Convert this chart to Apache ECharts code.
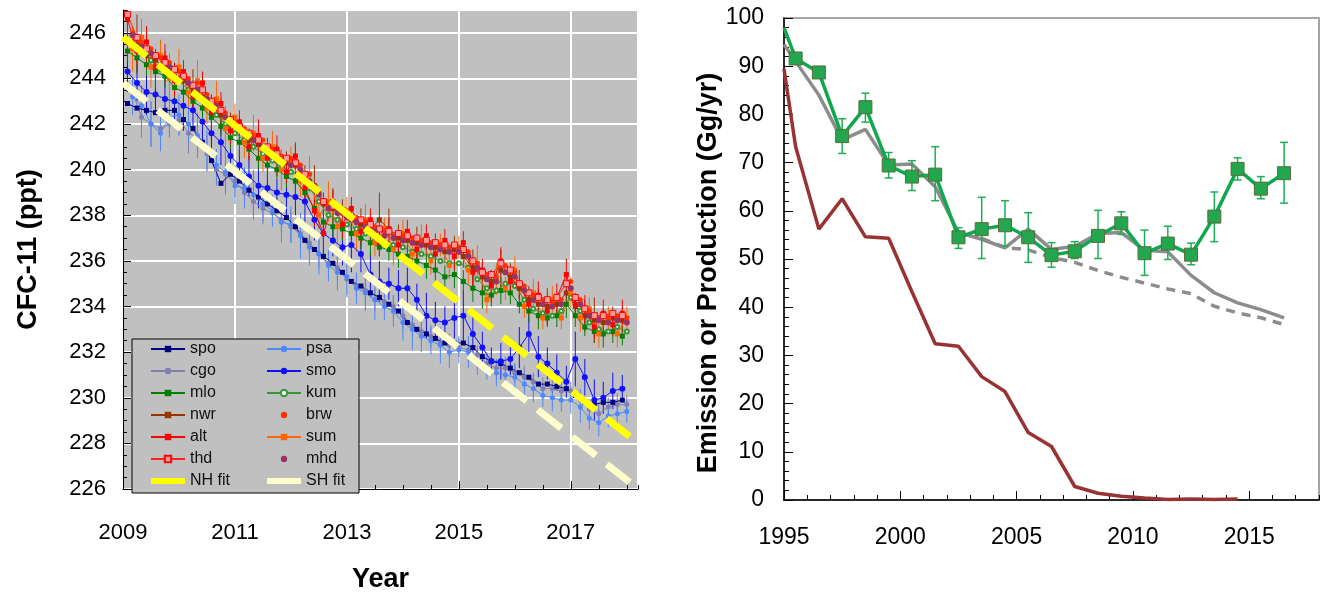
<!DOCTYPE html>
<html><head><meta charset="utf-8">
<script src="https://cdn.jsdelivr.net/npm/echarts@6/dist/echarts.min.js"></script>
<style>html,body{margin:0;padding:0;background:#fff}#c{width:1321px;height:598px}</style>
</head><body><div id="c"></div>
<script>
// ---------- Left panel: CFC-11 mole fractions (ppt) ----------
const tYears = [
2009.08,2009.25,2009.42,2009.58,2009.75,2009.92,
2010.08,2010.25,2010.42,2010.58,2010.75,2010.92,
2011.08,2011.25,2011.42,2011.58,2011.75,2011.92,
2012.08,2012.25,2012.42,2012.58,2012.75,2012.92,
2013.08,2013.25,2013.42,2013.58,2013.75,2013.92,
2014.08,2014.25,2014.42,2014.58,2014.75,2014.92,
2015.08,2015.25,2015.42,2015.58,2015.75,2015.92,
2016.08,2016.25,2016.42,2016.58,2016.75,2016.92,
2017.08,2017.25,2017.42,2017.58,2017.75,2017.92];
const tYearsB = [
2009.17,2009.33,2009.50,2009.67,2009.83,2010.00,
2010.17,2010.33,2010.50,2010.67,2010.83,2011.00,
2011.17,2011.33,2011.50,2011.67,2011.83,2012.00,
2012.17,2012.33,2012.50,2012.67,2012.83,2013.00,
2013.17,2013.33,2013.50,2013.67,2013.83,2014.00,
2014.17,2014.33,2014.50,2014.67,2014.83,2015.00,
2015.17,2015.33,2015.50,2015.67,2015.83,2016.00,
2016.17,2016.33,2016.50,2016.67,2016.83,2017.00,
2017.17,2017.33,2017.50,2017.67,2017.83,2018.00];

const spo = [
242.9,242.7,242.6,242.5,242.6,242.6, 242.2,241.8,241.2,240.4,239.4,239.8,
239.5,239.1,238.8,238.5,238.2,237.9, 237.5,236.9,236.5,236.2,235.9,235.5,
235.1,234.9,234.6,234.4,234.1,233.8, 233.3,233.0,232.8,232.6,232.4,232.4,
232.4,232.2,231.8,231.6,231.5,231.3, 231.1,230.9,230.6,230.6,230.5,230.4,
230.1,229.8,229.7,229.8,229.8,229.9];
const cgo = [
243.4,242.3,242.0,241.8,242.0,242.2, 241.6,241.4,240.7,240.0,239.8,239.5,
239.0,238.6,238.3,238.1,237.8,237.5, 237.2,236.8,236.3,235.9,235.7,235.2,
234.9,234.7,234.3,234.2,234.0,233.6, 233.2,232.9,232.7,232.4,232.3,232.2,
232.1,231.9,231.5,231.3,231.3,231.1, 230.9,230.7,230.4,230.4,230.3,230.3,
229.9,229.5,229.3,229.6,229.7,229.7];
const psa = [
243.2,242.8,242.0,241.6,242.3,242.4, 242.0,241.5,240.9,240.2,239.9,239.3,
239.2,238.9,238.5,238.2,237.7,237.6, 237.1,236.6,236.3,235.8,235.5,235.3,
234.8,234.6,234.3,234.0,233.8,233.3, 233.0,232.7,232.5,232.3,232.0,232.1,
232.0,231.6,231.3,231.1,231.0,230.9, 230.6,230.4,230.1,230.0,229.9,229.9,
229.6,229.1,228.9,229.2,229.3,229.4];
const smo = [
244.3,243.8,243.4,243.3,243.1,243.0, 242.8,242.6,242.1,241.6,241.2,240.6,
240.2,239.7,239.3,239.2,239.0,238.9, 238.8,238.6,237.8,237.2,236.9,236.6,
236.7,236.3,235.4,235.1,235.0,234.8, 234.8,234.3,233.6,233.4,233.3,233.5,
233.6,232.8,232.2,231.6,231.6,231.7, 232.2,232.8,231.8,231.5,231.1,230.7,
231.7,230.9,229.9,230.0,230.3,230.4];
const mlo = [
245.2,244.9,244.6,244.3,244.1,243.6, 243.4,243.0,242.7,242.3,241.9,241.4,
241.2,240.9,240.5,240.2,240.0,239.7, 239.5,239.0,238.3,237.7,237.5,237.4,
237.2,237.0,236.8,236.6,236.5,236.3, 236.2,236.0,235.8,235.6,235.3,235.4,
235.1,234.8,234.6,234.5,234.7,234.6, 234.1,233.8,233.6,233.5,233.6,234.1,
233.6,233.1,232.9,232.8,232.9,232.7];
const kum = [
245.5,245.1,244.8,244.4,244.2,243.9, 243.5,243.2,242.9,242.4,242.0,241.6,
241.3,241.0,240.7,240.4,240.1,239.9, 239.7,239.2,238.6,238.0,237.8,237.6,
237.4,237.2,237.0,236.8,236.7,236.6, 236.4,236.3,236.2,236.0,235.9,235.9,
235.7,235.2,234.8,234.7,235.0,234.9, 234.3,233.9,233.7,233.6,233.8,234.4,
233.8,233.3,233.0,232.9,233.1,232.9];
const nwr = [
245.6,245.5,245.0,244.8,244.5,244.1, 243.9,243.5,243.2,242.8,242.4,242.0,
241.7,241.3,241.1,240.8,240.4,240.3, 240.2,239.6,239.3,238.5,238.3,238.1,
237.8,237.6,237.4,237.8,237.4,237.0, 236.9,236.8,236.7,236.6,236.4,236.5,
236.2,235.7,235.3,235.1,235.6,235.3, 234.8,234.3,234.1,234.0,234.1,234.6,
234.0,233.6,233.4,233.3,233.5,233.4];
const brw = [
246.0,245.6,245.3,244.9,244.7,244.3, 244.0,243.8,243.3,242.9,242.5,242.1,
241.8,241.5,241.3,240.9,240.6,240.5, 240.2,239.8,239.0,238.5,238.3,238.0,
237.9,237.7,237.5,237.3,237.1,237.1, 237.0,236.9,236.8,236.7,236.6,236.6,
236.4,235.9,235.4,235.3,235.8,235.5, 234.9,234.5,234.3,234.2,234.3,235.1,
234.3,233.8,233.5,233.5,233.6,233.5];
const alt = [
246.6,245.2,245.6,244.5,244.9,243.9, 244.3,243.2,243.8,242.5,242.9,241.7,
242.1,241.0,241.5,240.5,240.9,239.9, 240.6,239.2,238.2,237.2,238.6,237.6,
238.3,237.3,237.8,236.8,237.4,236.7, 237.3,236.5,237.1,236.3,236.9,236.2,
236.8,235.5,235.6,234.9,236.0,235.1, 235.0,234.1,234.5,233.8,234.4,235.4,
234.1,233.9,233.1,233.7,233.2,233.7];
const sum = [
245.3,245.8,244.5,245.0,244.0,244.5, 243.4,243.9,242.7,243.1,241.8,242.3,
241.2,241.6,240.5,241.0,240.0,240.4, 239.5,239.8,238.0,238.6,237.5,238.2,
237.2,237.8,236.8,237.4,236.5,237.2, 236.3,236.9,236.0,236.7,235.8,236.6,
235.6,235.9,234.3,235.2,234.8,235.6, 234.0,234.6,233.5,234.3,233.5,234.6,
233.5,233.9,232.8,233.5,232.8,233.5];
const thd = [
246.8,245.8,245.3,245.0,244.7,244.4, 244.1,243.7,243.5,243.0,242.6,242.2,
241.9,241.6,241.3,241.0,240.7,240.5, 240.3,239.8,239.2,238.6,238.4,238.2,
237.9,237.8,237.6,237.4,237.3,237.2, 237.1,237.0,236.9,236.8,236.7,236.7,
236.5,236.0,235.5,235.4,235.9,235.6, 235.0,234.6,234.4,234.3,234.4,235.0,
234.4,233.9,233.6,233.6,233.7,233.6];
const mhd = [
245.9,245.4,245.1,244.6,244.5,244.0, 243.8,243.5,243.1,242.8,242.3,241.9,
241.6,241.3,241.0,240.7,240.4,240.2, 240.0,239.5,238.9,238.3,238.1,237.9,
237.7,237.5,237.3,237.1,237.0,236.9, 236.8,236.7,236.6,236.5,236.4,236.4,
236.2,235.7,235.2,235.1,235.5,235.3, 234.7,234.3,234.1,234.0,234.1,234.8,
234.1,233.6,233.4,233.3,233.4,233.3];

// error half-widths (ppt)
const smoErr = [0.9,0.8,1.0,0.7,0.9,0.8,1.1,0.7,0.8,0.9,1.0,0.8,0.7,0.9,1.0,0.8,0.6,0.9,0.8,1.1,0.9,1.0,0.7,0.8,1.2,0.8,1.0,0.9,0.7,0.8,0.9,0.7,1.0,0.8,0.7,0.9,1.1,0.8,0.7,0.6,0.8,0.7,0.9,0.8,0.9,0.7,0.8,0.7,1.2,0.8,0.9,0.7,0.8,0.6];
const psaErr = [0.8,0.9,1.0,0.8,0.7,0.9,0.8,1.0,0.9,0.7,1.0,0.8,0.9,1.1,0.8,0.7,0.9,0.8,1.0,0.8,0.9,0.7,0.8,0.9,0.7,0.8,0.9,0.6,0.7,0.8,0.9,0.7,0.6,0.8,0.7,0.6,0.7,0.6,0.5,0.6,0.5,0.6,0.5,0.6,0.5,0.6,0.5,0.6,0.7,0.5,0.6,0.5,0.6,0.5];
const cgoErr = [0.6,0.9,1.0,0.8,0.6,0.7,0.9,0.6,0.8,0.7,0.6,0.7,0.5,0.6,0.7,0.5,0.6,0.7,0.6,0.5,0.6,0.5,0.6,0.7,0.5,0.6,0.5,0.4,0.5,0.6,0.5,0.4,0.5,0.4,0.5,0.4,0.5,0.4,0.5,0.4,0.5,0.4,0.5,0.4,0.5,0.4,0.5,0.4,0.5,0.4,0.5,0.4,0.5,0.4];
const nwrErr = [0.5,1.3,0.6,0.5,0.7,0.6,0.5,0.9,0.6,0.5,0.7,0.5,0.6,0.5,0.8,0.6,0.7,0.5,0.9,0.6,0.9,0.5,0.9,0.6,0.5,0.7,0.6,1.2,0.9,0.6,0.5,0.7,0.5,0.6,0.5,0.6,0.5,0.8,0.6,0.5,0.9,0.6,0.5,0.6,0.7,0.8,0.5,0.6,0.5,0.7,1.0,0.6,0.5,0.6];
const sumErr = [1.0,0.8,0.9,0.7,1.1,0.8,0.6,0.9,0.7,0.8,1.0,0.6,0.7,0.8,0.6,0.7,0.9,0.6,0.7,0.8,0.6,0.9,0.7,0.6,0.8,0.7,0.6,0.5,0.7,0.6,0.5,0.7,0.6,0.5,0.6,0.5,0.6,0.8,0.6,0.7,0.5,0.6,0.5,0.6,0.5,0.6,0.5,0.7,0.6,0.5,0.6,0.5,0.6,0.5];
const mloErr = [0.5,0.6,0.5,0.7,0.5,0.6,0.5,0.4,0.6,0.5,0.4,0.5,0.6,0.4,0.5,0.6,0.4,0.5,0.6,0.5,0.7,0.5,0.6,0.5,0.4,0.5,0.6,0.4,0.5,0.6,0.4,0.5,0.6,0.7,0.5,0.6,0.5,0.6,0.7,0.5,0.6,0.5,0.4,0.5,0.6,0.4,0.5,0.6,0.5,0.4,0.5,0.6,0.5,0.4];
const altErr = [0.8,0.6,0.7,0.5,0.6,0.7,0.5,0.6,0.5,0.7,0.5,0.6,0.5,0.6,0.7,0.5,0.6,0.5,0.6,0.5,0.7,0.6,0.5,0.6,0.5,0.6,0.5,0.6,0.5,0.6,0.5,0.6,0.5,0.6,0.5,0.6,0.5,0.6,0.5,0.7,0.6,0.5,0.6,0.5,0.6,0.5,0.6,0.7,0.5,0.6,0.5,0.6,0.5,0.6];

// linear fits: [year, ppt] end points
const nhFit = [[2009.0, 245.8], [2018.05, 228.3]];
const shFit = [[2009.0, 243.8], [2018.05, 226.3]];

const leftYTicks = [226, 247, 2];
const leftXTicks = [2009, 2018.2, 2];

// ---------- Right panel: emissions / production (Gg/yr) ----------
const emisYears = [1995.5,1996.5,1997.5,1998.5,1999.5,2000.5,2001.5,2002.5,2003.5,2004.5,2005.5,2006.5,2007.5,2008.5,2009.5,2010.5,2011.5,2012.5,2013.5,2014.5,2015.5,2016.5];
const emis   = [91.6,88.7,75.5,81.5,69.4,67.1,67.5,54.5,56.2,57.0,54.5,50.8,51.6,54.8,57.4,51.2,53.2,50.9,58.8,68.7,64.6,67.8];
const emisLo = [null,null,71.9,78.4,66.8,64.2,62.1,52.2,50.1,52.7,49.3,48.3,50.1,50.1,55.1,46.6,49.9,48.8,53.6,66.4,62.5,61.6];
const emisHi = [null,null,79.1,84.4,72.1,70.4,73.3,56.5,62.8,62.1,59.6,53.4,53.6,60.1,59.8,56.0,56.8,53.3,63.9,71.0,67.1,74.2];
const emisStart = [1995.0, 98.0];

const modelYears = [1995.0,1995.5,1996.5,1997.5,1998.5,1999.5,2000.5,2001.5,2002.5,2003.5,2004.5,2005.5,2006.5,2007.5,2008.5,2009.5,2010.5,2011.5,2012.5,2013.5,2014.5,2015.5,2016.5];
const modelEmis  = [94.5,91.0,84.0,74.7,76.9,69.5,69.7,65.0,55.5,54.1,52.3,56.2,52.0,52.6,55.3,55.5,51.8,51.5,46.6,43.0,40.9,39.5,37.8];
const projYears = [2003.5,2004.5,2005.5,2006.5,2007.5,2008.5,2009.5,2010.5,2011.5,2012.5,2013.5,2014.5,2015.5,2016.5];
const projEmis  = [54.3,52.4,51.9,50.3,49.3,47.6,46.2,45.0,43.8,42.8,40.2,38.8,37.8,36.4];
const prodYears = [1995.0,1995.5,1996.5,1997.5,1998.5,1999.5,2000.5,2001.5,2002.5,2003.5,2004.5,2005.5,2006.5,2007.5,2008.5,2009.5,2010.5,2011.5,2012.5,2013.5,2014.5];
const prod      = [89.4,73.3,56.2,62.5,54.6,54.3,43.2,32.4,31.9,25.6,22.5,14.0,11.1,2.8,1.4,0.8,0.4,0.1,0.2,0.1,0.2];

const rightYTicks = [0, 100, 10];
const rightXTicks = [1995, 2018, 5];

// ---------- build ----------
const FONT = 'Liberation Sans, Arial, sans-serif';
const pair = (xs, ys) => xs.map((x, i) => [x, ys[i]]);
const plain = v => String(v);

function station(name, times, vals, color, symbol, size, extra) {
  return Object.assign({
    name, type: 'line', xAxisIndex: 0, yAxisIndex: 0, data: pair(times, vals),
    symbol, symbolSize: size, showSymbol: true,
    lineStyle: { color, width: 1 }, itemStyle: { color }, z: 3, animation: false
  }, extra || {});
}
function errBars(name, times, vals, errs, color) {
  return {
    name: name + ' err', type: 'custom', xAxisIndex: 0, yAxisIndex: 0, clip: true, silent: true, z: 2,
    data: times.map((x, i) => [x, vals[i] - errs[i], vals[i] + errs[i]]),
    renderItem: (p, api) => {
      const a = api.coord([api.value(0), api.value(1)]);
      const b = api.coord([api.value(0), api.value(2)]);
      return { type: 'line', shape: { x1: a[0], y1: a[1], x2: b[0], y2: b[1] }, style: { stroke: color, lineWidth: 1 } };
    }
  };
}

const emisErrData = [];
emisYears.forEach((x, i) => { if (emisLo[i] != null) emisErrData.push([x, emisLo[i], emisHi[i]]); });

const legendCommon = {
  orient: 'vertical', itemGap: 6, itemWidth: 34, itemHeight: 8, padding: 0, z: 20,
  textStyle: { fontFamily: FONT, fontSize: 16, lineHeight: 16, color: '#111' }, selectedMode: false
};
const fitIcon = 'path://M0,0H34V6H0Z';

const option = {
  animation: false,
  backgroundColor: '#ffffff',
  graphic: [{ type: 'rect', z: 10, shape: { x: 132, y: 339, width: 227, height: 154 },
              style: { fill: '#c0c0c0', stroke: '#000', lineWidth: 1 } }],
  legend: [
    Object.assign({ left: 150, top: 341,
      data: ['spo', 'cgo', 'mlo', 'nwr', 'alt', 'thd', { name: 'NH fit', icon: fitIcon }] }, legendCommon),
    Object.assign({ left: 266, top: 341,
      data: ['psa', 'smo', 'kum', 'brw', 'sum', 'mhd', { name: 'SH fit', icon: fitIcon }] }, legendCommon)
  ],
  grid: [
    { left: 123, top: 10, width: 515, height: 490, show: true, backgroundColor: '#c0c0c0', borderColor: '#808080', borderWidth: 1 },
    { left: 784, top: 18, width: 535, height: 482, show: true, backgroundColor: '#fff', borderColor: '#a6a6a6', borderWidth: 2 }
  ],
  xAxis: [
    { type: 'value', gridIndex: 0, position: 'bottom', min: leftXTicks[0], max: leftXTicks[1], interval: leftXTicks[2],
      name: 'Year', nameLocation: 'middle', nameGap: 77,
      nameTextStyle: { fontFamily: FONT, fontSize: 27, fontWeight: 'bold', color: '#000' },
      axisLine: { show: true, lineStyle: { color: '#000', width: 1 } },
      axisTick: { show: true, inside: true, length: 8, lineStyle: { color: '#000' } },
      axisLabel: { fontFamily: FONT, fontSize: 22, color: '#000', margin: 33, showMaxLabel: false, formatter: plain },
      splitLine: { show: true, lineStyle: { color: '#ffffff', width: 2 } } },
    { type: 'value', gridIndex: 0, position: 'bottom', min: leftXTicks[0], max: leftXTicks[1], interval: 0.5,
      axisLine: { show: false }, axisLabel: { show: false }, splitLine: { show: false },
      axisTick: { show: true, inside: true, length: 4, lineStyle: { color: '#000' } } },
    { type: 'value', gridIndex: 1, position: 'bottom', min: rightXTicks[0], max: rightXTicks[1], interval: rightXTicks[2],
      axisLine: { show: true, lineStyle: { color: '#000', width: 1.5 } },
      axisTick: { show: true, inside: true, length: 9, lineStyle: { color: '#000' } },
      axisLabel: { fontFamily: FONT, fontSize: 23, color: '#000', margin: 26, showMaxLabel: false, formatter: plain },
      splitLine: { show: false } },
    { type: 'value', gridIndex: 1, position: 'bottom', min: rightXTicks[0], max: rightXTicks[1], interval: 1,
      axisLine: { show: false }, axisLabel: { show: false }, splitLine: { show: false },
      axisTick: { show: true, inside: true, length: 5, lineStyle: { color: '#000' } } }
  ],
  yAxis: [
    { type: 'value', gridIndex: 0, position: 'left', min: leftYTicks[0], max: leftYTicks[1], interval: leftYTicks[2],
      name: 'CFC-11 (ppt)', nameLocation: 'middle', nameGap: 81,
      nameTextStyle: { fontFamily: FONT, fontSize: 27, fontWeight: 'bold', color: '#000' },
      axisLine: { show: true, lineStyle: { color: '#000', width: 1 } },
      axisTick: { show: true, inside: true, length: 8, lineStyle: { color: '#000' } },
      axisLabel: { fontFamily: FONT, fontSize: 22, color: '#000', margin: 17, showMaxLabel: false, formatter: plain },
      splitLine: { show: true, lineStyle: { color: '#ffffff', width: 2 } } },
    { type: 'value', gridIndex: 0, position: 'left', min: leftYTicks[0], max: leftYTicks[1], interval: 0.5,
      axisLine: { show: false }, axisLabel: { show: false }, splitLine: { show: false },
      axisTick: { show: true, inside: true, length: 4, lineStyle: { color: '#000' } } },
    { type: 'value', gridIndex: 1, position: 'left', min: rightYTicks[0], max: rightYTicks[1], interval: rightYTicks[2],
      name: 'Emission or Production (Gg/yr)', nameLocation: 'middle', nameGap: 60,
      nameTextStyle: { fontFamily: FONT, fontSize: 27, fontWeight: 'bold', color: '#000', padding: [0, 28, 0, 0] },
      axisLine: { show: true, lineStyle: { color: '#000', width: 1.5 } },
      axisTick: { show: true, inside: true, length: 9, lineStyle: { color: '#000' } },
      minorTick: { show: true, splitNumber: 5, length: 5, lineStyle: { color: '#000' } },
      axisLabel: { fontFamily: FONT, fontSize: 23, color: '#000', margin: 20, formatter: plain },
      splitLine: { show: false } }
  ],
  series: [
    errBars('cgo', tYearsB, cgo, cgoErr, '#7f7fb0'),
    errBars('psa', tYearsB, psa, psaErr, '#4d88ff'),
    errBars('smo', tYears, smo, smoErr, '#1010ff'),
    errBars('mlo', tYears, mlo, mloErr, '#008000'),
    errBars('nwr', tYears, nwr, nwrErr, '#993300'),
    errBars('sum', tYearsB, sum, sumErr, '#ff6600'),
    errBars('alt', tYears, alt, altErr, '#ff0000'),
    station('cgo', tYearsB, cgo, '#7f7fb0', 'circle', 5),
    station('psa', tYearsB, psa, '#4d88ff', 'circle', 5),
    station('spo', tYears, spo, '#000080', 'rect', 5),
    station('smo', tYears, smo, '#1010ff', 'circle', 6),
    station('mlo', tYears, mlo, '#008000', 'rect', 5),
    station('kum', tYearsB, kum, '#339933', 'emptyCircle', 4),
    station('nwr', tYears, nwr, '#993300', 'rect', 5),
    station('sum', tYearsB, sum, '#ff6600', 'rect', 5),
    station('brw', tYearsB, brw, '#ff3300', 'circle', 5, { lineStyle: { width: 0, color: '#ff3300' } }),
    station('alt', tYears, alt, '#ff0000', 'rect', 5),
    station('thd', tYears, thd, '#ff0000', 'rect', 6, { itemStyle: { color: '#ff9a9a', borderColor: '#ff0000', borderWidth: 1 }, lineStyle: { color: '#ff2020', width: 1 } }),
    station('mhd', tYearsB, mhd, '#993366', 'circle', 6, { lineStyle: { width: 0, color: '#993366' } }),
    { name: 'NH fit', type: 'line', xAxisIndex: 0, yAxisIndex: 0, data: nhFit, symbol: 'none', z: 6,
      lineStyle: { color: '#ffff00', width: 7, type: [30, 14], cap: 'butt' }, itemStyle: { color: '#ffff00' } },
    { name: 'SH fit', type: 'line', xAxisIndex: 0, yAxisIndex: 0, data: shFit, symbol: 'none', z: 6,
      lineStyle: { color: '#ffffcc', width: 7, type: [30, 14], cap: 'butt' }, itemStyle: { color: '#ffffcc' } },

    // right panel
    { name: 'production', type: 'line', xAxisIndex: 2, yAxisIndex: 2, data: pair(prodYears, prod), symbol: 'none', z: 2,
      lineStyle: { color: '#993333', width: 3.5 } },
    { name: 'model', type: 'line', xAxisIndex: 2, yAxisIndex: 2, data: pair(modelYears, modelEmis), symbol: 'none', z: 3,
      lineStyle: { color: '#8c8c8c', width: 3.5 } },
    { name: 'projection', type: 'line', xAxisIndex: 2, yAxisIndex: 2, data: pair(projYears, projEmis), symbol: 'none', z: 3,
      lineStyle: { color: '#8c8c8c', width: 3.5, type: [9, 7] } },
    { name: 'emis err', type: 'custom', xAxisIndex: 2, yAxisIndex: 2, silent: true, z: 4, data: emisErrData,
      renderItem: (p, api) => {
        const a = api.coord([api.value(0), api.value(1)]);
        const b = api.coord([api.value(0), api.value(2)]);
        const st = { stroke: '#1fae55', lineWidth: 1.5 };
        return { type: 'group', children: [
          { type: 'line', shape: { x1: a[0], y1: a[1], x2: b[0], y2: b[1] }, style: st },
          { type: 'line', shape: { x1: a[0] - 4, y1: a[1], x2: a[0] + 4, y2: a[1] }, style: st },
          { type: 'line', shape: { x1: b[0] - 4, y1: b[1], x2: b[0] + 4, y2: b[1] }, style: st }
        ] };
      } },
    { name: 'emission', type: 'line', xAxisIndex: 2, yAxisIndex: 2, z: 5,
      data: [{ value: emisStart, symbol: 'none' }].concat(pair(emisYears, emis)),
      symbol: 'rect', symbolSize: 13,
      lineStyle: { color: '#0fa84e', width: 3.5 },
      itemStyle: { color: '#22a74e', borderColor: '#5b6b3c', borderWidth: 1 } }
  ]
};

const chart = echarts.init(document.getElementById('c'), null, { renderer: 'canvas' });
chart.setOption(option);
</script></body></html>
